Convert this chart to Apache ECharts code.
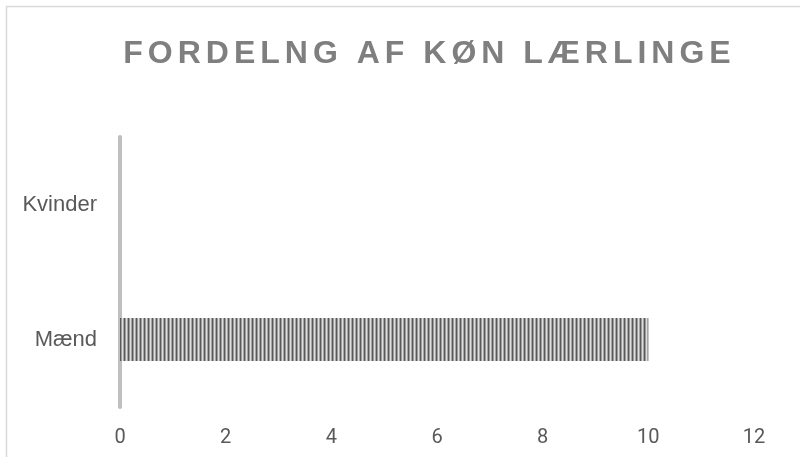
<!DOCTYPE html>
<html>
<head>
<meta charset="utf-8">
<script src="https://cdn.jsdelivr.net/npm/echarts@6/dist/echarts.min.js"></script>
<style>
  html, body { margin: 0; padding: 0; background: #fff; }
  #chart { width: 800px; height: 457px; }
</style>
</head>
<body>
<div id="chart"></div>
<script>
// data
var titleText = 'FORDELNG AF KØN LÆRLINGE'
var categories = ['Mænd', 'Kvinder']
var values = [10, 0]
var xTicks = [0, 12, 2] // min, max, interval

// vertical stripe fill like the original
function stripes() {
  var c = document.createElement('canvas')
  c.width = 4
  c.height = 4
  var ctx = c.getContext('2d')
  var cols = ['#5a5a5a', '#9c9c9c', '#dedede', '#a6a6a6']
  cols.forEach(function (col, i) {
    ctx.fillStyle = col
    ctx.fillRect(i, 0, 1, 4)
  })
  return c
}

// spaced-out letters through rich tokens
var spaced = titleText.split('').map(function (ch) {
  return '{c|' + ch + '}'
}).join('')

var chart = echarts.init(document.getElementById('chart'))
chart.setOption({
  animation: false,
  title: {
    text: spaced,
    left: 422,
    top: 33,
    textAlign: 'center',
    textStyle: {
      rich: {
        c: {
          fontFamily: 'Liberation Sans, Arial, sans-serif',
          fontSize: 32,
          fontWeight: 'bold',
          color: '#7f7f7f',
          padding: [0, 2.5, 0, 2.5]
        }
      }
    }
  },
  graphic: [{
    type: 'rect',
    shape: { x: 6.5, y: 6.5, width: 900, height: 900 },
    style: { fill: 'none', stroke: '#d9d9d9', lineWidth: 1.5 },
    silent: true
  }],
  grid: {
    left: 120,
    right: 46,
    top: 137,
    bottom: 50
  },
  xAxis: {
    type: 'value',
    min: xTicks[0],
    max: xTicks[1],
    interval: xTicks[2],
    splitLine: { show: false },
    axisLine: { show: false },
    axisTick: { show: false },
    axisLabel: {
      margin: 21,
      color: '#595959',
      fontSize: 20,
      fontFamily: 'Roboto, sans-serif'
    }
  },
  yAxis: {
    type: 'category',
    data: categories,
    axisTick: { show: false },
    axisLine: {
      lineStyle: { color: '#bfbfbf', width: 4 }
    },
    axisLabel: {
      margin: 23,
      color: '#595959',
      fontSize: 22,
      fontFamily: 'Liberation Sans, Arial, sans-serif'
    }
  },
  series: [{
    type: 'bar',
    data: values,
    barWidth: 43,
    itemStyle: {
      color: { image: stripes(), repeat: 'repeat' }
    }
  }]
})
</script>
</body>
</html>
